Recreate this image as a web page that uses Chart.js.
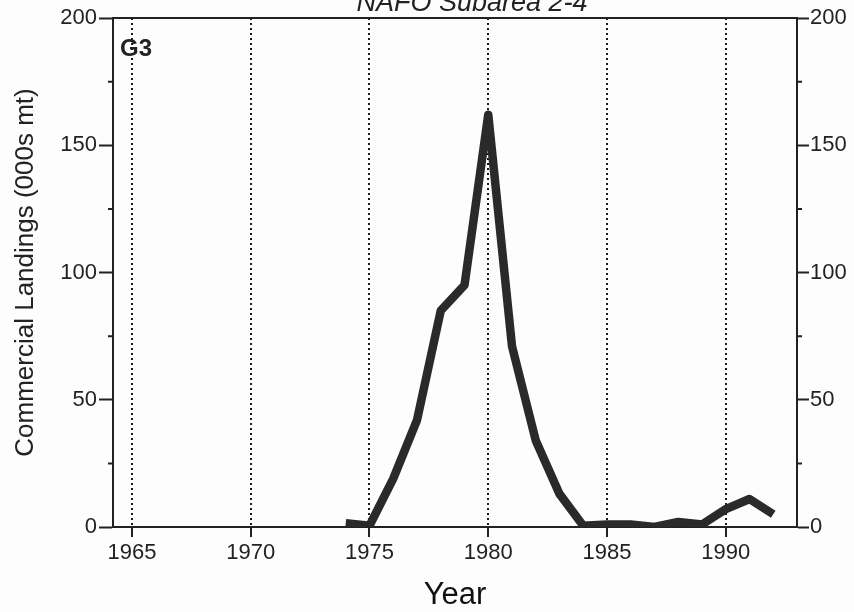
<!DOCTYPE html>
<html>
<head>
<meta charset="utf-8">
<script src="https://cdn.jsdelivr.net/npm/chart.js@4"></script>
<style>
    html, body { margin: 0; padding: 0; background: #fdfdfd; }
    #wrap { width: 854px; height: 612px; position: relative; }
</style>
</head>
<body>
<div id="wrap"><canvas id="landingsChart"></canvas></div>
<script>
// data
const years = [1974, 1975, 1976, 1977, 1978, 1979, 1980, 1981, 1982, 1983, 1984, 1985, 1986, 1987, 1988, 1989, 1990, 1991, 1992];
const landings = [1.5, 0.5, 19, 42, 85, 95, 162, 71, 34, 13, 0.5, 1, 1, 0, 2, 1, 7, 11, 5];
const yearTicks = [1965, 1970, 1975, 1980, 1985, 1990];
const landingTicks = [0, 50, 100, 150, 200];
const minorTicks = [25, 75, 125, 175];
const titleText = 'NAFO Subarea 2-4';
const panelLabel = 'G3';

const ink = '#222';
const fontFamily = '"Liberation Sans", Arial, sans-serif';

// title (clipped at top), panel tag, top frame line and short minor ticks
const decorPlugin = {
    id: 'decor',
    afterDraw(chart) {
        const ctx = chart.ctx;
        const area = chart.chartArea;
        const yL = chart.scales.y;
        const yR = chart.scales.y2;
        ctx.save();
        ctx.strokeStyle = ink;
        ctx.lineWidth = 2;
        ctx.beginPath();
        ctx.moveTo(area.left, area.top);
        ctx.lineTo(area.right, area.top);
        ctx.stroke();

        minorTicks.forEach(v => {
            ctx.beginPath();
            ctx.moveTo(area.left - 5, yL.getPixelForValue(v));
            ctx.lineTo(area.left, yL.getPixelForValue(v));
            ctx.moveTo(area.right, yR.getPixelForValue(v));
            ctx.lineTo(area.right + 5, yR.getPixelForValue(v));
            ctx.stroke();
        });

        ctx.fillStyle = ink;
        ctx.font = 'italic 27px ' + fontFamily;
        ctx.textAlign = 'center';
        ctx.textBaseline = 'alphabetic';
        ctx.fillText(titleText, 472, 11);

        ctx.font = 'bold 24px ' + fontFamily;
        ctx.textAlign = 'left';
        ctx.fillText(panelLabel, area.left + 7, area.top + 38);
        ctx.restore();
    }
};

function initChart() {
    const ctx = document.getElementById('landingsChart').getContext('2d');
    const points = years.map((yr, i) => ({ x: yr, y: landings[i] }));

    new Chart(ctx, {
        type: 'line',
        data: {
            datasets: [{
                data: points,
                borderColor: '#2a2a2a',
                borderWidth: 8.5,
                borderJoinStyle: 'round',
                pointRadius: 0,
                tension: 0,
                fill: false
            }]
        },
        options: {
            responsive: true,
            maintainAspectRatio: false,
            animation: false,
            devicePixelRatio: 1,
            layout: { padding: { top: 18, left: 0, right: 0, bottom: 0 } },
            plugins: {
                legend: { display: false },
                tooltip: { enabled: false }
            },
            scales: {
                x: {
                    type: 'linear',
                    min: 1964.2,
                    max: 1993,
                    afterBuildTicks: s => { s.ticks = yearTicks.map(v => ({ value: v })); },
                    afterFit: s => { s.height = 85; },
                    ticks: {
                        color: ink,
                        font: { family: fontFamily, size: 22 },
                        padding: 3,
                        maxRotation: 0,
                        callback: v => String(v)
                    },
                    grid: {
                        color: '#1a1a1a',
                        lineWidth: 2,
                        tickLength: 10,
                        tickColor: ink,
                        tickWidth: 2,
                        tickBorderDash: []
                    },
                    border: { color: ink, width: 2, dash: [2, 3] },
                    title: {
                        display: true,
                        text: 'Year',
                        color: '#111',
                        font: { family: fontFamily, size: 31 },
                        padding: { top: 0, bottom: -2 }
                    }
                },
                y: {
                    position: 'left',
                    min: 0,
                    max: 200,
                    afterBuildTicks: s => { s.ticks = landingTicks.map(v => ({ value: v })); },
                    afterFit: s => { s.width = 113; },
                    ticks: {
                        color: ink,
                        font: { family: fontFamily, size: 22 },
                        padding: 2
                    },
                    grid: {
                        drawOnChartArea: false,
                        tickLength: 14,
                        tickColor: ink,
                        tickWidth: 2
                    },
                    border: { color: ink, width: 2 },
                    title: {
                        display: true,
                        text: 'Commercial Landings (000s mt)',
                        color: ink,
                        font: { family: fontFamily, size: 26 },
                        padding: { top: 10, bottom: 0 }
                    }
                },
                y2: {
                    position: 'right',
                    min: 0,
                    max: 200,
                    afterBuildTicks: s => { s.ticks = landingTicks.map(v => ({ value: v })); },
                    afterFit: s => { s.width = 57; },
                    ticks: {
                        color: ink,
                        font: { family: fontFamily, size: 22 },
                        padding: 1
                    },
                    grid: {
                        drawOnChartArea: false,
                        tickLength: 12,
                        tickColor: ink,
                        tickWidth: 2
                    },
                    border: { color: ink, width: 2 }
                }
            }
        },
        plugins: [decorPlugin]
    });
}

document.addEventListener('DOMContentLoaded', initChart);
</script>
</body>
</html>
